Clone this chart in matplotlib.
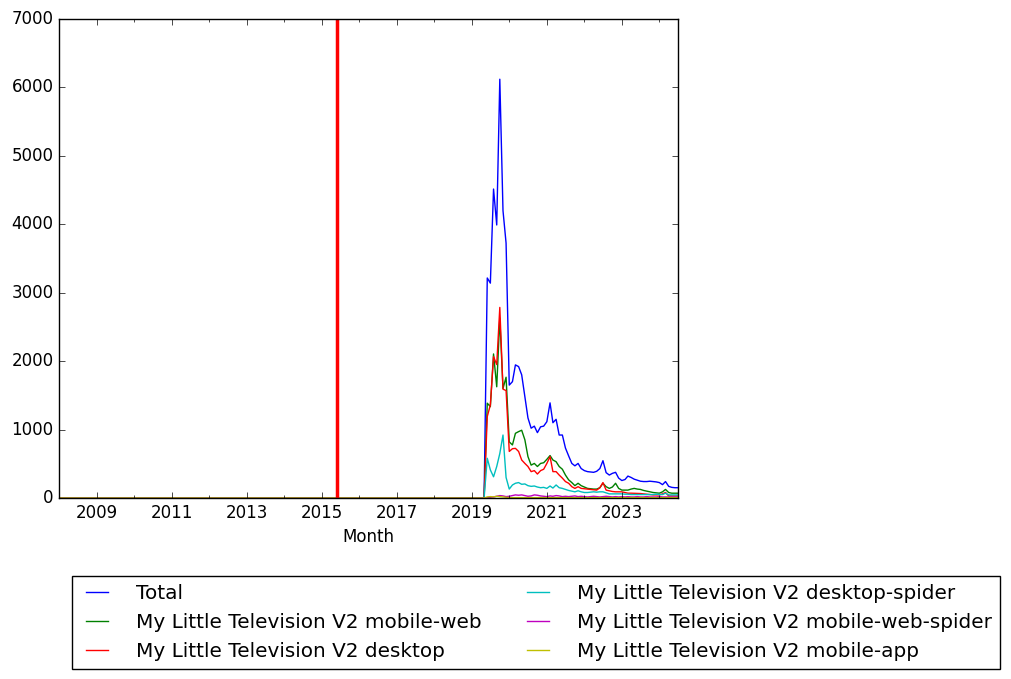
import numpy as np
import pandas as pd
import matplotlib
matplotlib.use("Agg")
import matplotlib.pyplot as plt

plt.style.use("classic")

# monatliche Werte, erste Monate (2008-01 bis 2019-05) sind alle null
erster_monat = "2008-01"
letzter_monat = "2024-07"
null_monate = 137
ereignis_monat = "2015-06"

total = [3215, 3140, 4515, 3990, 6120, 4200, 3725, 1650, 1700, 1945,
         1920, 1800, 1480, 1170, 1020, 1050, 955, 1040, 1050, 1115,
         1390, 1100, 1150, 920, 920, 730, 615, 505, 470, 505,
         430, 400, 385, 380, 375, 390, 430, 545, 370, 335,
         360, 375, 290, 255, 270, 320, 300, 275, 260, 245,
         240, 240, 245, 240, 235, 225, 195, 240, 170, 155,
         150, 150]
mobile_web = [1385, 1335, 2105, 1625, 2630, 1600, 1765, 820, 775, 945,
              970, 990, 850, 605, 480, 505, 460, 505, 515, 565,
              620, 555, 530, 460, 420, 335, 265, 225, 180, 215,
              180, 160, 140, 135, 130, 130, 150, 215, 165, 140,
              160, 215, 140, 115, 115, 115, 130, 140, 130, 125,
              110, 100, 90, 80, 75, 70, 90, 125, 80, 70,
              70, 70]
desktop = [1190, 1360, 2065, 1950, 2785, 1590, 1570, 680, 720, 725,
           680, 555, 505, 460, 385, 400, 350, 400, 420, 505,
           605, 385, 385, 335, 290, 240, 215, 165, 140, 165,
           140, 135, 130, 125, 120, 115, 150, 225, 115, 105,
           95, 90, 90, 90, 80, 70, 70, 68, 65, 65,
           60, 55, 50, 45, 45, 45, 60, 80, 30, 30,
           30, 30]
desktop_spider = [580, 410, 310, 460, 650, 920, 300, 130, 190, 215,
                  225, 200, 205, 180, 170, 175, 160, 150, 155, 140,
                  175, 145, 190, 150, 140, 125, 110, 100, 90, 105,
                  90, 80, 80, 85, 90, 85, 90, 90, 75, 60,
                  60, 60, 60, 60, 55, 55, 50, 50, 50, 50,
                  50, 50, 50, 50, 55, 50, 50, 70, 45, 45,
                  45, 45]
mobile_web_spider = [5, 10, 15, 25, 35, 30, 20, 25, 35, 45,
                     40, 45, 35, 25, 30, 45, 40, 30, 25, 20,
                     30, 25, 35, 30, 20, 25, 20, 25, 30, 20,
                     25, 20, 15, 20, 25, 20, 15, 20, 25, 20,
                     15, 20, 15, 20, 15, 20, 15, 15, 20, 15,
                     15, 20, 15, 15, 15, 20, 15, 15, 15, 15,
                     15, 15]
mobile_app = [15, 20, 15, 25, 20, 15, 10, 5, 5, 5,
              5, 5, 5, 5, 5, 5, 5, 5, 5, 5,
              5, 5, 5, 5, 5, 5, 5, 5, 5, 5,
              5, 5, 5, 5, 5, 5, 5, 5, 5, 5,
              5, 5, 5, 5, 5, 5, 5, 5, 5, 5,
              5, 5, 5, 5, 5, 5, 5, 5, 5, 5,
              5, 5]

labels = ["Total",
          "My Little Television V2 mobile-web",
          "My Little Television V2 desktop",
          "My Little Television V2 desktop-spider",
          "My Little Television V2 mobile-web-spider",
          "My Little Television V2 mobile-app"]
farben = ["b", "g", "r", "c", "m", "y"]

monate = pd.date_range(erster_monat, letzter_monat, freq="MS")
reihen = [total, mobile_web, desktop, desktop_spider, mobile_web_spider, mobile_app]

fig = plt.figure(figsize=(10.12, 6.79), dpi=100, facecolor="white")
ax = fig.add_axes([0.0583, 0.2666, 0.6117, 0.7054])

for werte, label, farbe in zip(reihen, labels, farben):
    y = np.concatenate([np.zeros(null_monate), np.array(werte, dtype=float)])
    ax.plot(monate, y, color=farbe, linewidth=1.0, label=label)

ax.axvline(pd.Timestamp(ereignis_monat), color="r", linewidth=2.5)

ax.set_xlim(monate[0], monate[-1])
ax.set_ylim(0, 7000)
ax.set_yticks(np.arange(0, 7001, 1000))
ax.set_xticks([pd.Timestamp(f"{j}-01-01") for j in range(2009, 2025, 2)])
ax.set_xticklabels([str(j) for j in range(2009, 2025, 2)])
ax.set_xticks([pd.Timestamp(f"{j}-01-01") for j in range(2008, 2025, 2)], minor=True)
ax.tick_params(labelsize=12)
ax.set_xlabel("Month", fontsize=12)

fig.legend(loc="upper center", bbox_to_anchor=(0.5295, 0.1517), ncol=2,
           fontsize=14.4, frameon=True, fancybox=False, handlelength=1.7,
           handletextpad=1.1, columnspacing=2.0, borderaxespad=0.0)

fig.savefig("out.png", dpi=100, facecolor="white")
